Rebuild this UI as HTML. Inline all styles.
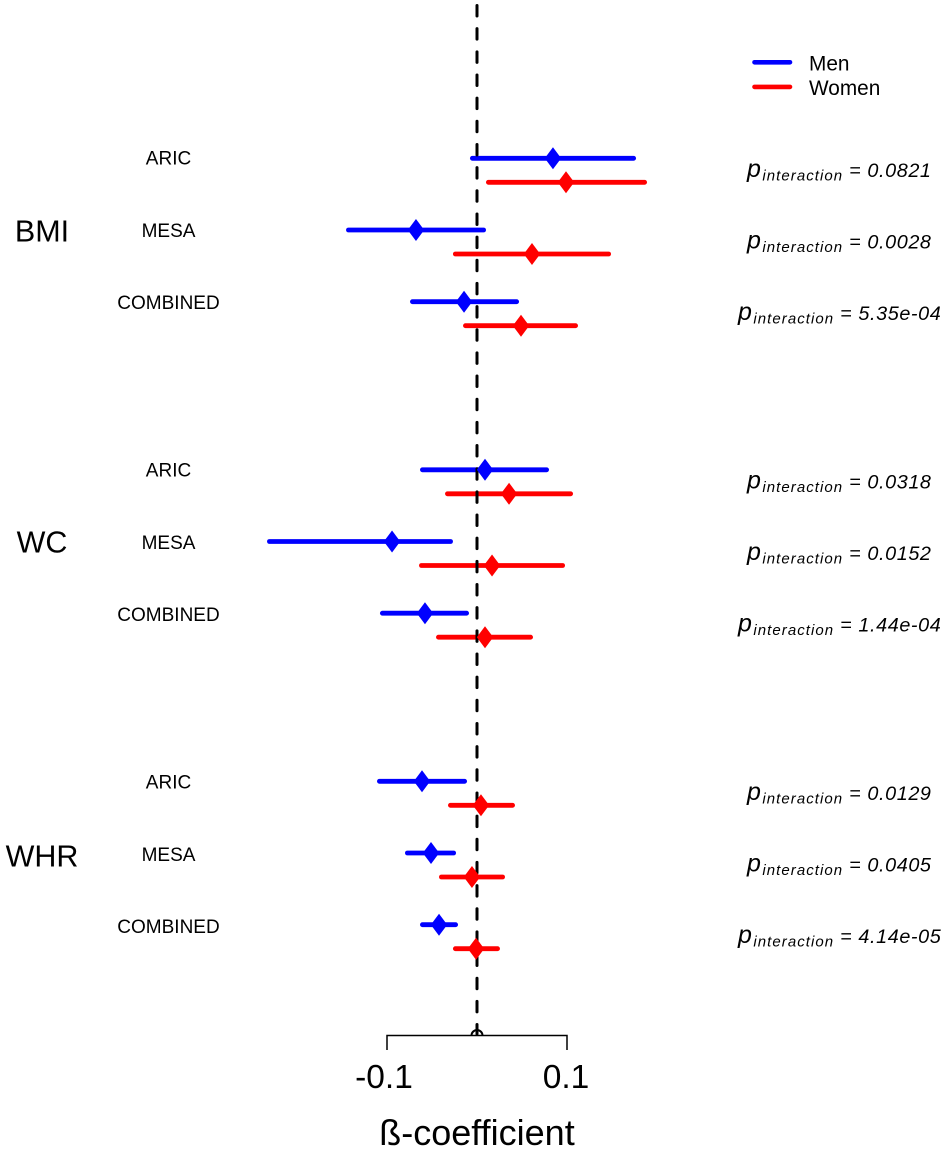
<!DOCTYPE html>
<html lang="en">
<head>
<meta charset="utf-8">
<title>Forest plot of ß-coefficients by sex</title>
<style>
html,body{margin:0;padding:0;background:#fff;}
svg{display:block;font-family:"Liberation Sans",Arial,sans-serif;}
</style>
</head>
<body>
<svg id="chart" xmlns="http://www.w3.org/2000/svg" width="945" height="1151" viewBox="0 0 945 1151"></svg>
<script>
const outcomes = ['BMI', 'WC', 'WHR'];
const cohorts = ['ARIC', 'MESA', 'COMBINED'];
const axisTicks = [-0.1, 0.1];
const tickLabels = ['-0.1', '0.1'];
const menLow = [-0.0067, -0.1444, -0.0733, -0.0622, -0.2322, -0.1067, -0.1100, -0.0789, -0.0622];
const menMid = [0.0844, -0.0678, -0.0144, 0.0089, -0.0944, -0.0578, -0.0611, -0.0511, -0.0422];
const menHigh = [0.1756, 0.0089, 0.0456, 0.0789, -0.0278, -0.0100, -0.0122, -0.0244, -0.0222];
const womenLow = [0.0111, -0.0256, -0.0144, -0.0344, -0.0633, -0.0444, -0.0311, -0.0411, -0.0256];
const womenMid = [0.0989, 0.0611, 0.0489, 0.0356, 0.0167, 0.0089, 0.0044, -0.0056, -0.0011];
const womenHigh = [0.1878, 0.1478, 0.1111, 0.1056, 0.0967, 0.0611, 0.0411, 0.0300, 0.0244];
const pValues = ['0.0821', '0.0028', '5.35e-04', '0.0318', '0.0152', '1.44e-04', '0.0129', '0.0405', '4.14e-05'];

const svg = document.getElementById('chart');
const NS = 'http://www.w3.org/2000/svg';
const xScale = v => 477 + v * 900;
const rowY = i => 158.3 + Math.floor(i / 3) * 311.5 + (i % 3) * 71.7;
const labelY = i => 158 + Math.floor(i / 3) * 312 + (i % 3) * 72.3;

function mk(tag, attrs, text) {
  const el = document.createElementNS(NS, tag);
  for (const k in attrs) el.setAttribute(k, attrs[k]);
  if (text !== undefined) el.textContent = text;
  svg.appendChild(el);
  return el;
}

function drawBar(low, high, y, color) {
  const el = mk('line', {x1: xScale(low) + 1.4, x2: xScale(high) - 1.4, y1: y, y2: y, stroke: color, 'stroke-width': 4.8, 'stroke-linecap': 'round'});
  return el;
}

function drawDiamond(mid, y, color) {
  const x = xScale(mid);
  const pts = [[x, y - 11], [x + 8.2, y], [x, y + 11], [x - 8.2, y]].map(p => p.join(',')).join(' ');
  return mk('polygon', {points: pts, fill: color});
}

/* interval bars */
menLow.forEach((_, i) => {
  const y = rowY(i);
  const m = drawBar(menLow[i], menHigh[i], y, '#0000ff');
  
  
  const w = drawBar(womenLow[i], womenHigh[i], y + 24, '#ff0000');
  
  
});

/* reference line at zero */
const refLine = mk('line', {x1: xScale(0), x2: xScale(0), y1: 5.5, y2: 1034, stroke: '#000', 'stroke-width': 3, 'stroke-dasharray': '10.5 12.66', 'stroke-linecap': 'round'});



/* point estimates */
menMid.forEach((_, i) => {
  const y = rowY(i);
  const m = drawDiamond(menMid[i], y, '#0000ff');
  
  
  const w = drawDiamond(womenMid[i], y + 24, '#ff0000');
  
  
});

/* axis */
const axisPath = mk('path', {d: 'M' + xScale(axisTicks[0]) + ' 1050V1035.5H' + xScale(axisTicks[1]) + 'V1050', fill: 'none', stroke: '#000', 'stroke-width': 1.5});


const zeroMark = mk('path', {d: 'M' + (xScale(0) - 5.5) + ' 1035.5A5.5 5.5 0 0 1 ' + (xScale(0) + 5.5) + ' 1035.5', fill: 'none', stroke: '#000', 'stroke-width': 2});


axisTicks.forEach((t, i) => {
  const el = mk('text', {x: xScale(t) + (i === 0 ? -3 : -1), y: 1088, 'text-anchor': 'middle', 'font-size': 33.5}, tickLabels[i]);
  
  
});
const axisTitle = mk('text', {x: 477, y: 1145, 'text-anchor': 'middle', 'font-size': 36}, 'ß-coefficient');



/* group labels */
outcomes.forEach((o, g) => {
  const el = mk('text', {x: 42, y: [241.5, 552.5, 866.5][g], 'text-anchor': 'middle', 'font-size': 30.5}, o);
  
  
});

/* cohort labels and p values */
pValues.forEach((p, i) => {
  const y = rowY(i);
  const c = mk('text', {x: 168.5, y: labelY(i) + 6.5, 'text-anchor': 'middle', 'font-size': 19}, cohorts[i % 3]);
  
  

  const long = p.length > 6;
  const t = mk('text', {x: long ? 738 : 747, y: y + 18.5, 'font-style': 'italic', 'font-size': 19.8, fill: '#000'});
  
  
  const a = document.createElementNS(NS, 'tspan');
  a.setAttribute('font-size', '25');
  a.textContent = 'p';
  t.appendChild(a);
  const b = document.createElementNS(NS, 'tspan');
  b.setAttribute('font-size', '15');
  b.setAttribute('dy', '3.5');
  b.setAttribute('dx', '1.5');
  b.setAttribute('letter-spacing', '1.05');
  b.textContent = 'interaction';
  t.appendChild(b);
  const d = document.createElementNS(NS, 'tspan');
  d.setAttribute('dy', '-3.5');
  d.setAttribute('dx', '6');
  d.setAttribute('letter-spacing', '0.6');
  d.textContent = '= ' + p;
  t.appendChild(d);
});

/* legend */
const legendNames = ['Men', 'Women'];
const legendColors = ['#0000ff', '#ff0000'];
legendNames.forEach((n, i) => {
  const y = 62.3 + i * 24.6;
  const l = mk('line', {x1: 754.5, x2: 790, y1: y, y2: y, stroke: legendColors[i], 'stroke-width': 4.6, 'stroke-linecap': 'round'});
  
  
  const t = mk('text', {x: 809, y: y + 8, 'font-size': 20.8}, n);
  
  
});
</script>
</body>
</html>
